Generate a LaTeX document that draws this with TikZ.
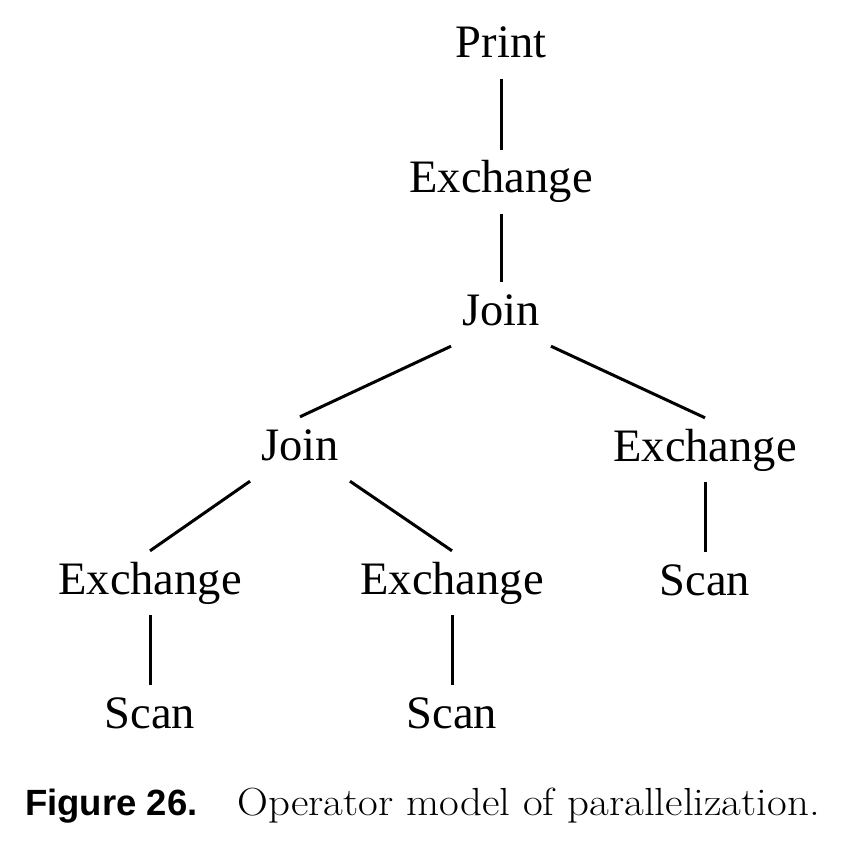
\documentclass[tikz,border=0pt]{standalone}
\usepackage{fontspec}
\newfontfamily\treefont{Liberation Serif}
\newfontfamily\capsans{Liberation Sans}
\begin{document}
\begin{tikzpicture}[x=1pt,y=-1pt,
  op/.style={anchor=base,inner sep=11pt,text height=32pt,text depth=10pt,
    font=\treefont\fontsize{46.5}{50}\selectfont},
  edge/.style={line width=3pt,black},
  capt/.style={anchor=base west,inner sep=0pt}]
\useasboundingbox (0,0) rectangle (856,866);
% nodes
\node[op] (print) at (501,58) {Print};
\node[op] (ex1)   at (501,193) {Exchange};
\node[op] (join1) at (501,325) {Join};
\node[op] (join2) at (300,460) {Join};
\node[op] (exR)   at (705,461) {Exchange};
\node[op] (exLL)  at (150,594) {Exchange};
\node[op] (exLM)  at (452,594) {Exchange};
\node[op] (scanR) at (705,595) {Scan};
\node[op] (scanLL) at (150,728) {Scan};
\node[op] (scanLM) at (452,728) {Scan};
% connectors
\draw[edge] (print.south) -- (ex1.north);
\draw[edge] (ex1.south) -- (join1.north);
\draw[edge] (join1.south west) -- (join2.north);
\draw[edge] (join1.south east) -- (exR.north);
\draw[edge] (join2.south west) -- (exLL.north);
\draw[edge] (join2.south east) -- (exLM.north);
\draw[edge] (exR.south) -- (scanR.north);
\draw[edge] (exLL.south) -- (scanLL.north);
\draw[edge] (exLM.south) -- (scanLM.north);
% caption
\node[capt,font=\capsans\bfseries\fontsize{36.5}{40}\selectfont] (figlabel) at (25,815) {Figure 26.};
\node[capt,font=\fontsize{39.2}{44}\selectfont] (figtext) at (237,815) {\scalebox{1.094}[1]{Operator model of parallelization.}};
\end{tikzpicture}
\end{document}
